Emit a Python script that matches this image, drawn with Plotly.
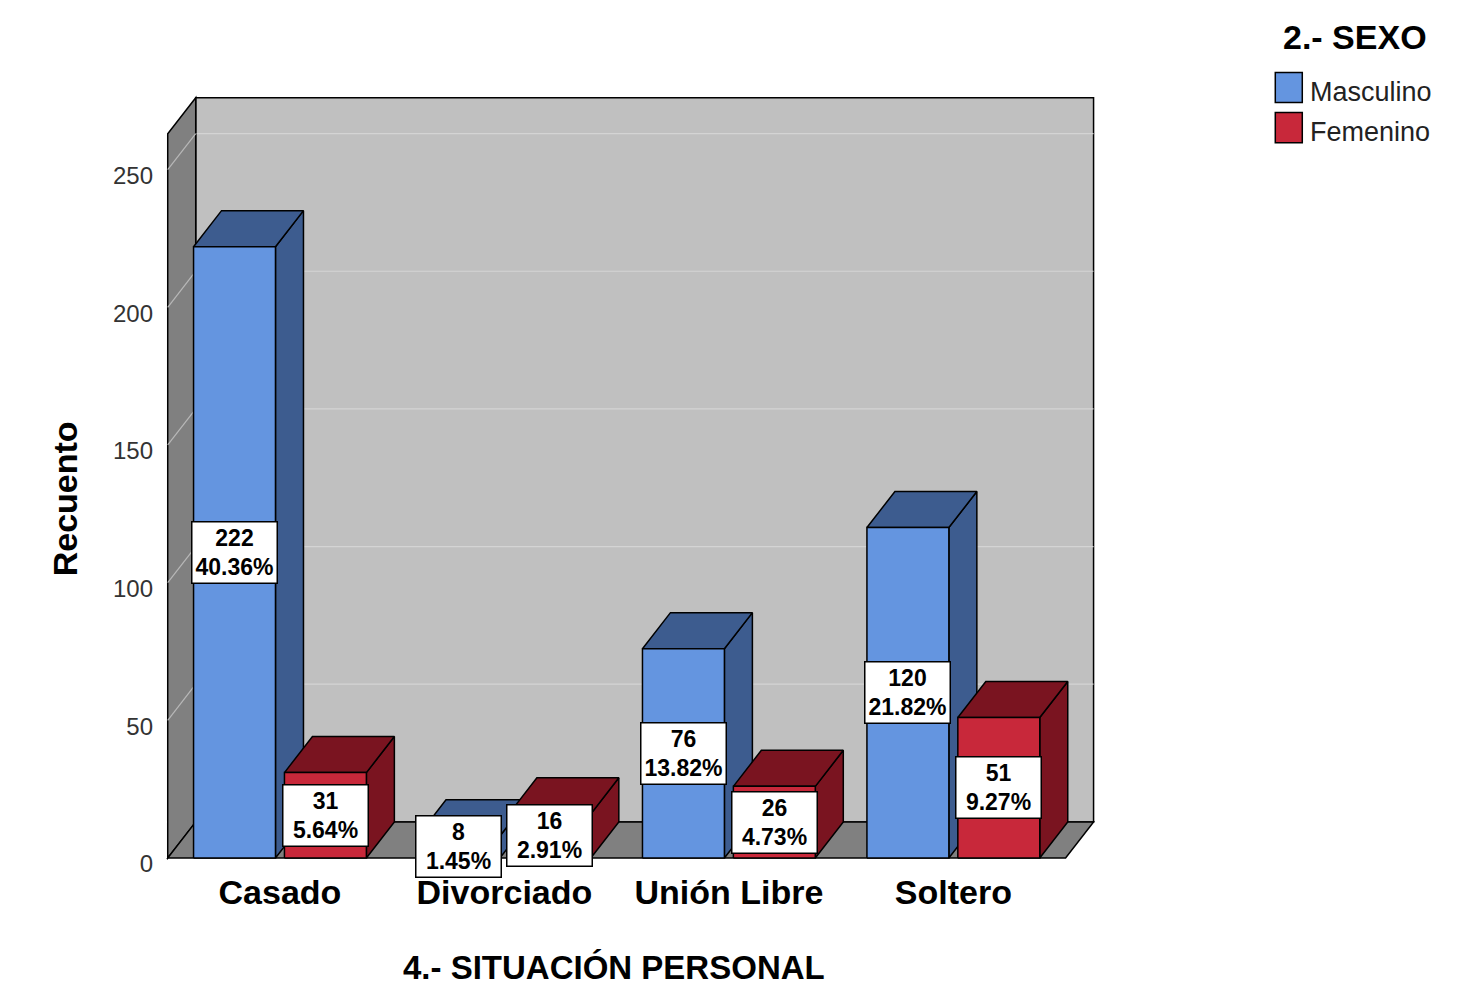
import plotly.graph_objects as go

# ---------------- data ----------------
categories = ["Casado", "Divorciado", "Unión Libre", "Soltero"]
masculino = [222, 8, 76, 120]
femenino = [31, 16, 26, 51]
pct_masculino = ["40.36%", "1.45%", "13.82%", "21.82%"]
pct_femenino = ["5.64%", "2.91%", "4.73%", "9.27%"]
series_names = ["Masculino", "Femenino"]
y_ticks = [0, 50, 100, 150, 200, 250]
legend_title = "2.- SEXO"
x_title = "4.- SITUACIÓN PERSONAL"
y_title = "Recuento"

# ---------------- styling / geometry ----------------
OFF = 8                      # page body margin
W, H = 1459 - OFF, 995 - OFF
PX_X = 224.5                 # pixels per category step
PX_Y = 2.752                 # pixels per count unit
ORIG_X, ORIG_Y = 279.5 - OFF, 858.0 - OFF   # pixel of (0, 0) on front plane
DX, DY = 0.1247, 13.1        # 3-D depth offset in data units
X0, X1 = -0.5, 3.5           # front floor extent
Y_WALL = 263.0               # wall height (front)
GAP, BW = 0.02, 0.365        # bar gap / bar width

x_range = [-0.53, 3.64]
y_range = [-2.2, 278.2]
ML = ORIG_X + x_range[0] * PX_X
MR = W - (ORIG_X + x_range[1] * PX_X)
MB = H - (ORIG_Y - y_range[0] * PX_Y)
MT = ORIG_Y - y_range[1] * PX_Y
PW, PH = W - ML - MR, H - MT - MB


def px(xp):
    return (xp - OFF - ML) / PW


def py(yp):
    return (H - MB - (yp - OFF)) / PH


colors = {
    "Masculino": ("#6495e0", "#3d5c8f"),
    "Femenino": ("#c8283a", "#7a1420"),
}
WALL_BACK = "#c0c0c0"
WALL_SIDE = "#808080"
GRID = "#d4d4d4"
LABEL_FONT = "Liberation Sans, Arial, sans-serif"

fig = go.Figure()


def poly(xs, ys, fill):
    fig.add_trace(go.Scatter(
        x=xs, y=ys, mode="lines", fill="toself", fillcolor=fill,
        line=dict(color="black", width=1.5), hoverinfo="skip",
        showlegend=False,
    ))


annotations = []
for i, cat in enumerate(categories):
    for s, (vals, pcts) in enumerate([(masculino, pct_masculino),
                                      (femenino, pct_femenino)]):
        name = series_names[s]
        front, dark = colors[name]
        v = vals[i]
        x0 = i - GAP - BW if s == 0 else i + GAP
        x1 = x0 + BW
        # side face
        poly([x1, x1 + DX, x1 + DX, x1, x1], [0, DY, v + DY, v, 0], dark)
        # top face
        poly([x0, x1, x1 + DX, x0 + DX, x0], [v, v, v + DY, v + DY, v], dark)
        # front face
        poly([x0, x1, x1, x0, x0], [0, 0, v, v, 0], front)
        annotations.append(dict(
            x=(x0 + x1) / 2, y=v / 2, xref="x", yref="y",
            text=f"<b>{v}<br>{pcts[i]}</b>", showarrow=False,
            font=dict(family=LABEL_FONT, size=23, color="black"),
            bgcolor="white", bordercolor="black", borderwidth=1.5,
            borderpad=1, width=82, height=58, align="center",
        ))

shapes = []
# back wall
shapes.append(dict(type="rect", xref="x", yref="y", layer="below",
                   x0=X0 + DX, x1=X1 + DX, y0=DY, y1=Y_WALL + DY,
                   fillcolor=WALL_BACK, line=dict(color="black", width=1.5)))
for v in y_ticks[1:]:
    shapes.append(dict(type="line", xref="x", yref="y", layer="below",
                       x0=X0 + DX, x1=X1 + DX, y0=v + DY, y1=v + DY,
                       line=dict(color=GRID, width=1.2)))
# left wall
shapes.append(dict(type="path", xref="x", yref="y", layer="below",
                   path=f"M {X0},0 L {X0 + DX},{DY} L {X0 + DX},{Y_WALL + DY} L {X0},{Y_WALL} Z",
                   fillcolor=WALL_SIDE, line=dict(color="black", width=1.5)))
for v in y_ticks[1:]:
    shapes.append(dict(type="line", xref="x", yref="y", layer="below",
                       x0=X0, x1=X0 + DX, y0=v, y1=v + DY,
                       line=dict(color="#b8b8b8", width=1.2)))
# floor
shapes.append(dict(type="path", xref="x", yref="y", layer="below",
                   path=f"M {X0},0 L {X1},0 L {X1 + DX},{DY} L {X0 + DX},{DY} Z",
                   fillcolor=WALL_SIDE, line=dict(color="black", width=1.5)))

# manual legend (positions given in reference-page pixels)
sw_y = [(73, 103), (113, 143)]
for s, name in enumerate(series_names):
    y0p, y1p = sw_y[s]
    shapes.append(dict(type="rect", xref="paper", yref="paper",
                       x0=px(1275), x1=px(1302), y0=py(y1p), y1=py(y0p),
                       fillcolor=colors[name][0],
                       line=dict(color="black", width=1.5)))
    annotations.append(dict(
        x=px(1308), y=py((y0p + y1p) / 2 + 4), xref="paper", yref="paper",
        xanchor="left", yanchor="middle", text=name, showarrow=False,
        font=dict(family=LABEL_FONT, size=27, color="#222222")))

annotations.append(dict(
    x=px(1355), y=py(37), xref="paper", yref="paper", text=f"<b>{legend_title}</b>",
    showarrow=False, xanchor="center", yanchor="middle",
    font=dict(family=LABEL_FONT, size=34, color="black")))
annotations.append(dict(
    x=px(614), y=py(968), xref="paper", yref="paper", text=f"<b>{x_title}</b>",
    showarrow=False, xanchor="center", yanchor="middle",
    font=dict(family=LABEL_FONT, size=33, color="black")))
annotations.append(dict(
    x=px(64), y=py(499), xref="paper", yref="paper", text=f"<b>{y_title}</b>",
    showarrow=False, xanchor="center", yanchor="middle", textangle=-90,
    font=dict(family=LABEL_FONT, size=34, color="black")))

fig.update_layout(
    width=W, height=H,
    margin=dict(l=ML, r=MR, t=MT, b=MB, pad=0),
    paper_bgcolor="white", plot_bgcolor="white",
    showlegend=False,
    shapes=shapes, annotations=annotations,
    xaxis=dict(range=x_range, tickvals=list(range(len(categories))),
               ticktext=[f"<b>{c}</b>" for c in categories],
               showgrid=False, zeroline=False,
               showline=False, ticks="", fixedrange=True,
               tickfont=dict(family=LABEL_FONT, size=34, color="black"),
               ticklabelstandoff=5),
    yaxis=dict(range=y_range, tickvals=y_ticks, showgrid=False,
               zeroline=False, showline=False, ticks="", fixedrange=True,
               tickfont=dict(family=LABEL_FONT, size=24, color="#333333"),
               ticklabelstandoff=7, ticklabelshift=6),
)

fig.write_html("out.html")
